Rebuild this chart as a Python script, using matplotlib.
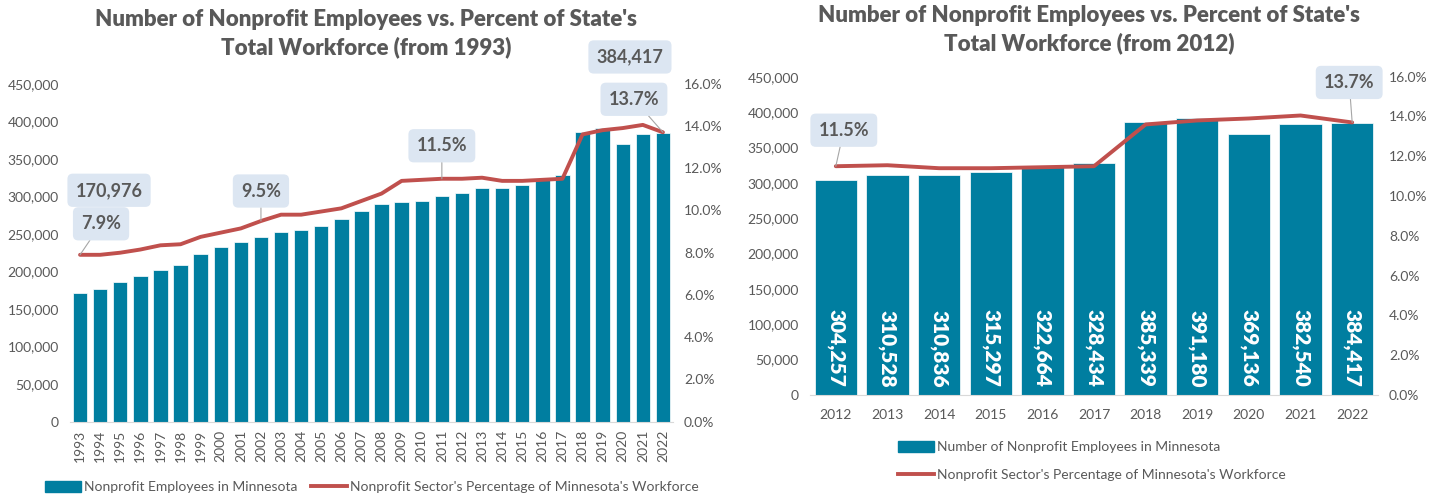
import matplotlib.pyplot as plt
from matplotlib.patches import Patch
from matplotlib.lines import Line2D

plt.rcParams['font.family'] = ['Lato', 'DejaVu Sans']

years = ['1993', '1994', '1995', '1996', '1997', '1998', '1999', '2000', '2001', '2002',
         '2003', '2004', '2005', '2006', '2007', '2008', '2009', '2010', '2011', '2012',
         '2013', '2014', '2015', '2016', '2017', '2018', '2019', '2020', '2021', '2022']
employees = [170976, 177000, 186000, 194000, 202000, 209000, 223000, 233000, 239000, 246000,
             252000, 255000, 261000, 270000, 281000, 290000, 293000, 294000, 300000, 304257,
             310528, 310836, 315297, 322664, 328434, 385339, 391180, 369136, 382540, 384417]
pct = [7.9, 7.9, 8.0, 8.15, 8.35, 8.4, 8.75, 8.95, 9.15, 9.5,
       9.8, 9.8, 9.95, 10.1, 10.45, 10.8, 11.4, 11.45, 11.5, 11.5,
       11.55, 11.4, 11.4, 11.45, 11.5, 13.6, 13.8, 13.9, 14.05, 13.7]

recent_years = years[19:]
recent_emp = employees[19:]
recent_pct = pct[19:]

left_ticks = [0, 50000, 100000, 150000, 200000, 250000, 300000, 350000, 400000, 450000]
right_ticks = [0, 2, 4, 6, 8, 10, 12, 14, 16]

BAR = '#007EA0'
LINE = '#C0504D'
GREY = '#595959'
BOX = '#DCE6F2'

fig = plt.figure(figsize=(14.45, 4.95), dpi=100)


def style(ax, ax2):
    for s in ['top', 'right', 'left']:
        ax.spines[s].set_visible(False)
        ax2.spines[s].set_visible(False)
    ax2.spines['bottom'].set_visible(False)
    ax.spines['bottom'].set_color('#D9D9D9')
    ax.set_ylim(0, 450000)
    ax.set_yticks(left_ticks)
    ax.set_yticklabels([f'{t:,}' for t in left_ticks])
    ax2.set_ylim(0, 16)
    ax2.set_yticks(right_ticks)
    ax2.set_yticklabels([f'{t:.1f}%' for t in right_ticks])
    ax.tick_params(length=0, labelsize=10, labelcolor=GREY, pad=8)
    ax2.tick_params(length=0, labelsize=10, labelcolor=GREY, pad=8)


def callout(ax, ax2, x, y, text, dx, dy, leader=True):
    ax2.annotate(text, xy=(x, y), xycoords=ax.transData, xytext=(dx, dy),
                 textcoords='offset pixels', ha='center', va='center',
                 fontsize=13, fontweight='bold', color=GREY, zorder=6,
                 bbox=dict(boxstyle='round,pad=0.45,rounding_size=0.3', fc=BOX, ec='none'),
                 arrowprops=dict(arrowstyle='-', color='#A6A6A6', lw=0.8,
                                 shrinkA=0, shrinkB=0) if leader else None)


def title(xc, y1, y2, line1, line2):
    for y, t in [(y1, line1), (y2, line2)]:
        fig.text(xc / 1445, 1 - y / 495, t, ha='center', va='center',
                 fontsize=16, fontweight='heavy', color=GREY)


# ---- left chart (from 1993)
ax = fig.add_axes([70 / 1445, 73.3 / 495, 603 / 1445, 338 / 495])
ax2 = ax.twinx()
x = list(range(len(years)))
ax.bar(x, employees, width=0.72, color=BAR, edgecolor='white', linewidth=0.5)
ax2.plot(x, pct, color=LINE, lw=2.8, solid_capstyle='round')
ax.set_xlim(-0.5, len(years) - 0.5)
ax.set_xticks(x)
ax.set_xticklabels(years, rotation=90, fontsize=9.5)
style(ax, ax2)
ax.tick_params(axis='x', pad=6)

# callouts converted to the left axis scale for the percentage line
s = 450000 / 16
callout(ax, ax2, 0, employees[0], '170,976', 29, 103, leader=False)
callout(ax, ax2, 0, pct[0] * s, '7.9%', 21, 31)
callout(ax, ax2, 9, pct[9] * s, '9.5%', 0, 30)
callout(ax, ax2, 18, pct[18] * s, '11.5%', 0, 33)
callout(ax, ax2, 29, employees[29], '384,417', -33, 76, leader=False)
callout(ax, ax2, 29, pct[29] * s, '13.7%', -29, 33)

title(366, 20, 47, "Number of Nonprofit Employees vs. Percent of State's",
      "Total Workforce (from 1993)")

fig.legend(handles=[Patch(color=BAR, label='Nonprofit Employees in Minnesota'),
                    Line2D([0], [0], color=LINE, lw=2.8,
                           label="Nonprofit Sector's Percentage of Minnesota's Workforce")],
           loc='center', bbox_to_anchor=(372 / 1445, 1 - 487 / 495), ncol=2, frameon=False,
           fontsize=10, labelcolor=GREY, handlelength=2.6, handletextpad=0.2,
           columnspacing=1.0, handleheight=0.9)

# ---- right chart (from 2012)
bx = fig.add_axes([810 / 1445, 100 / 495, 568 / 1445, 318.3 / 495])
bx2 = bx.twinx()
xr = list(range(len(recent_years)))
bx.bar(xr, recent_emp, width=0.82, color=BAR, edgecolor='white', linewidth=0.5)
bx2.plot(xr, recent_pct, color=LINE, lw=2.8, solid_capstyle='round')
bx.set_xlim(-0.5, len(recent_years) - 0.5)
bx.set_xticks(xr)
bx.set_xticklabels(recent_years, fontsize=10)
style(bx, bx2)
bx.tick_params(axis='x', pad=10)

for i, v in enumerate(recent_emp):
    bx.text(i, 11000, f'{v:,}', rotation=270, ha='center', va='bottom',
            color='white', fontweight='heavy', fontsize=15, zorder=4)

callout(bx, bx2, 0, recent_pct[0] * s, '11.5%', 8, 36)
callout(bx, bx2, 10, recent_pct[10] * s, '13.7%', -3, 40)

title(1089, 15, 43, "Number of Nonprofit Employees vs. Percent of State's",
      "Total Workforce (from 2012)")

fig.legend(handles=[Patch(color=BAR, label='Number of Nonprofit Employees in Minnesota'),
                    Line2D([0], [0], color=LINE, lw=2.8,
                           label="Nonprofit Sector's Percentage of Minnesota's Workforce")],
           loc='center', bbox_to_anchor=(1092 / 1445, 1 - 461 / 495), ncol=1, frameon=False,
           fontsize=10, labelcolor=GREY, handlelength=2.6, handletextpad=0.2,
           labelspacing=1.1, handleheight=0.9)

fig.savefig('out.png', dpi=100)
